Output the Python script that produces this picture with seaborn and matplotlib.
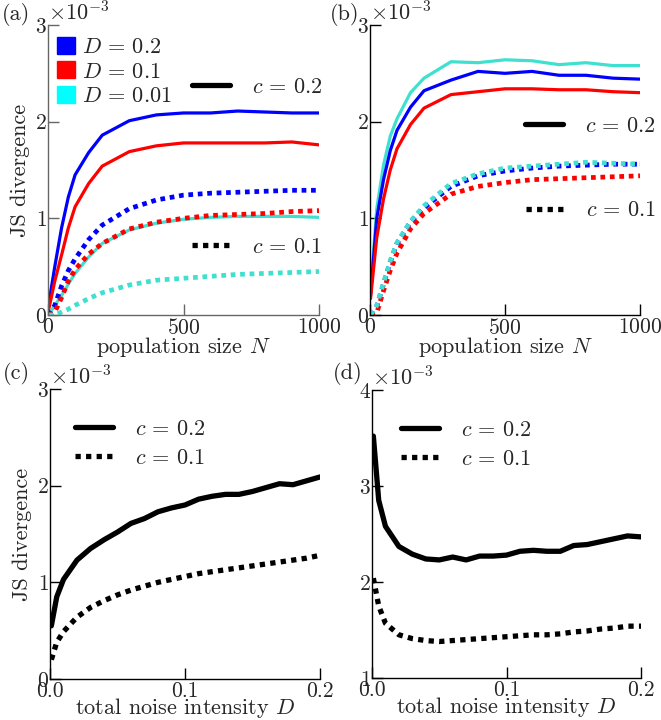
import numpy as np
import pandas as pd
import matplotlib
matplotlib.use("Agg")
import matplotlib.pyplot as plt
import seaborn as sns
from matplotlib.lines import Line2D
from matplotlib.patches import Patch

# ---------------- data (values in units of 1e-3) ----------------
N = [2, 25, 50, 75, 100, 150, 200, 300, 400, 500, 600, 700, 800, 900, 1000]

# panel (a)
a_blue_c02 = [0.10, 0.50, 0.90, 1.22, 1.45, 1.68, 1.86, 2.01, 2.07, 2.09, 2.09, 2.11, 2.10, 2.09, 2.09]
a_red_c02 = [0.05, 0.35, 0.62, 0.90, 1.12, 1.36, 1.54, 1.69, 1.75, 1.78, 1.78, 1.78, 1.78, 1.79, 1.76]
a_cyan_c02 = [0.00, 0.10, 0.20, 0.32, 0.43, 0.60, 0.74, 0.88, 0.95, 0.99, 1.01, 1.02, 1.02, 1.02, 1.01]
a_blue_c01 = [0.00, 0.10, 0.30, 0.46, 0.58, 0.78, 0.93, 1.10, 1.19, 1.24, 1.26, 1.27, 1.28, 1.29, 1.29]
a_red_c01 = [0.00, 0.03, 0.18, 0.35, 0.47, 0.63, 0.74, 0.89, 0.96, 1.00, 1.03, 1.04, 1.05, 1.07, 1.08]
a_cyan_c01 = [0.00, 0.00, 0.03, 0.06, 0.10, 0.17, 0.23, 0.31, 0.36, 0.38, 0.40, 0.42, 0.43, 0.44, 0.45]

# panel (b)
b_blue_c02 = [0.20, 1.00, 1.40, 1.70, 1.91, 2.15, 2.32, 2.43, 2.52, 2.50, 2.52, 2.48, 2.48, 2.45, 2.44]
b_red_c02 = [0.17, 0.80, 1.20, 1.50, 1.72, 1.97, 2.14, 2.28, 2.31, 2.34, 2.34, 2.33, 2.33, 2.31, 2.30]
b_cyan_c02 = [0.25, 1.10, 1.55, 1.85, 2.03, 2.30, 2.45, 2.62, 2.61, 2.64, 2.63, 2.59, 2.61, 2.58, 2.58]
b_blue_c01 = [0.00, 0.09, 0.32, 0.55, 0.74, 0.96, 1.11, 1.33, 1.44, 1.49, 1.52, 1.54, 1.55, 1.56, 1.56]
b_red_c01 = [0.00, 0.02, 0.25, 0.46, 0.64, 0.89, 1.05, 1.25, 1.33, 1.37, 1.40, 1.41, 1.42, 1.43, 1.44]
b_cyan_c01 = [0.00, 0.10, 0.33, 0.56, 0.75, 0.97, 1.13, 1.36, 1.46, 1.52, 1.54, 1.56, 1.58, 1.57, 1.56]

# panels (c), (d): total noise intensity D
Dn = [0.001, 0.005, 0.01, 0.02, 0.03, 0.04, 0.05, 0.06, 0.07, 0.08, 0.09, 0.10,
      0.11, 0.12, 0.13, 0.14, 0.15, 0.16, 0.17, 0.18, 0.19, 0.20]
c_c02 = [0.55, 0.85, 1.03, 1.23, 1.35, 1.44, 1.52, 1.61, 1.66, 1.73, 1.77, 1.80,
         1.86, 1.89, 1.91, 1.91, 1.94, 1.98, 2.02, 2.01, 2.05, 2.09]
c_c01 = [0.20, 0.38, 0.49, 0.64, 0.74, 0.81, 0.87, 0.92, 0.96, 1.00, 1.03, 1.06,
         1.09, 1.11, 1.13, 1.15, 1.17, 1.19, 1.21, 1.23, 1.25, 1.28]
d_c02 = [3.52, 2.85, 2.58, 2.37, 2.29, 2.24, 2.23, 2.26, 2.23, 2.27, 2.27, 2.28,
         2.32, 2.33, 2.32, 2.32, 2.38, 2.39, 2.42, 2.45, 2.48, 2.47]
d_c01 = [2.04, 1.75, 1.57, 1.45, 1.41, 1.39, 1.38, 1.39, 1.40, 1.41, 1.42, 1.43,
         1.44, 1.45, 1.45, 1.46, 1.48, 1.49, 1.51, 1.52, 1.54, 1.54]

D_labels = [r"$D\,=\,0.2$", r"$D\,=\,0.1$", r"$D\,=\,0.01$"]
c_labels = [r"$c\,=\,0.2$", r"$c\,=\,0.1$"]
panel_labels = ["(a)", "(b)", "(c)", "(d)"]

# ---------------- style ----------------
sns.set_theme(style="ticks")
plt.rcParams.update({
    "font.family": ["cmr10", "DejaVu Serif"],
    "mathtext.fontset": "cm",
    "axes.formatter.use_mathtext": True,
    "axes.unicode_minus": False,
    "font.size": 16,
    "axes.labelsize": 16,
    "xtick.labelsize": 15.5,
    "ytick.labelsize": 15.5,
    "legend.fontsize": 16,
})

BLUE, RED = "#0000ff", "#ff0000"
CYAN_LINE, CYAN_PATCH = "#40e0d0", "#00ffff"
DOT = (0, (1, 1))
S = 1e-3

fig = plt.figure(figsize=(6.61, 7.2), dpi=100)
W, H = 661, 720
def add_ax(l, r, t, b):
    return fig.add_axes([l / W, 1 - b / H, (r - l) / W, (b - t) / H])

axA = add_ax(48, 319, 25, 315)
axB = add_ax(370, 640, 25, 315)
axC = add_ax(50, 320, 389, 679)
axD = add_ax(372, 641, 390, 678)

def draw(ax, x, y, color, ls, lw):
    sns.lineplot(x=np.asarray(x), y=np.asarray(y) * S, ax=ax, color=color,
                 linestyle=ls, linewidth=lw, estimator=None, sort=False)

for ax, sets in [
    (axA, [(a_blue_c02, BLUE, "-"), (a_red_c02, RED, "-"), (a_cyan_c02, CYAN_LINE, "-"),
           (a_blue_c01, BLUE, DOT), (a_red_c01, RED, DOT), (a_cyan_c01, CYAN_LINE, DOT)]),
    (axB, [(b_cyan_c02, CYAN_LINE, "-"), (b_blue_c02, BLUE, "-"), (b_red_c02, RED, "-"),
           (b_blue_c01, BLUE, DOT), (b_red_c01, RED, DOT), (b_cyan_c01, CYAN_LINE, DOT)]),
]:
    for y, col, ls in sets:
        draw(ax, N, y, col, ls, 2.3 if ls == "-" else 3.4)

draw(axC, Dn, c_c02, "black", "-", 3.8)
draw(axC, Dn, c_c01, "black", DOT, 3.8)
draw(axD, Dn, d_c02, "black", "-", 3.8)
draw(axD, Dn, d_c01, "black", DOT, 3.8)

for ax, spc in [(axA, "#666666"), (axB, "black"), (axC, "black"), (axD, "black")]:
    sns.despine(ax=ax)
    for s in ["left", "bottom"]:
        ax.spines[s].set_color(spc)
        ax.spines[s].set_linewidth(1.0)
    ax.tick_params(direction="in", length=8, width=1.0, color=spc)
    ax.tick_params(axis="x", pad=2)
    ax.tick_params(axis="y", pad=1)
    ax.ticklabel_format(axis="y", style="sci", scilimits=(-3, -3), useMathText=True)
    ax.yaxis.get_offset_text().set_fontsize(16)
    ax.set_ylabel("")
    ax.set_xlabel("")

for ax in (axA, axB):
    ax.set_xlim(0, 1000)
    ax.set_ylim(0, 3e-3)
    ax.set_xticks([0, 500, 1000])
    ax.set_yticks([0, 1e-3, 2e-3, 3e-3])
    ax.set_xlabel("population size $N$", labelpad=-2)
for ax in (axC, axD):
    ax.set_xlim(0, 0.2)
    ax.set_xticks([0.0, 0.1, 0.2])
    ax.set_xticklabels(["0.0", "0.1", "0.2"])
    ax.set_xlabel("total noise intensity $D$", labelpad=-4)
axC.set_ylim(0, 3e-3)
axC.set_yticks([0, 1e-3, 2e-3, 3e-3])
axD.set_ylim(1e-3, 4e-3)
axD.set_yticks([1e-3, 2e-3, 3e-3, 4e-3])
axA.set_ylabel("JS divergence", labelpad=3)
axC.set_ylabel("JS divergence", labelpad=3)

# legends
h_sol = Line2D([], [], color="black", lw=3.8, ls="-")
h_dot = Line2D([], [], color="black", lw=3.8, ls=DOT)
legD = axA.legend([Patch(color=c) for c in (BLUE, RED, CYAN_PATCH)], D_labels,
                  loc="upper left", bbox_to_anchor=(0.0, 0.99), frameon=False,
                  handlelength=0.8, handleheight=0.8, handletextpad=0.35,
                  labelspacing=0.2, borderaxespad=0.0)
axA.add_artist(legD)
kw = dict(frameon=False, handlelength=1.7, handletextpad=1.0, borderaxespad=0.0)
l1 = axA.legend([h_sol], [c_labels[0]], loc="center right", bbox_to_anchor=(1.045, 0.785), **kw)
axA.add_artist(l1)
axA.legend([h_dot], [c_labels[1]], loc="center right", bbox_to_anchor=(1.045, 0.235), **kw)

l2 = axB.legend([h_sol], [c_labels[0]], loc="center right", bbox_to_anchor=(1.09, 0.65), **kw)
axB.add_artist(l2)
axB.legend([h_dot], [c_labels[1]], loc="center right", bbox_to_anchor=(1.09, 0.36), **kw)

axC.legend([h_sol, h_dot], c_labels, loc="upper left", bbox_to_anchor=(0.06, 0.925),
           frameon=False, handlelength=1.7, handletextpad=1.0, labelspacing=0.42,
           borderaxespad=0.0)
axD.legend([h_sol, h_dot], c_labels, loc="upper left", bbox_to_anchor=(0.075, 0.925),
           frameon=False, handlelength=1.7, handletextpad=1.0, labelspacing=0.42,
           borderaxespad=0.0)

for lab, (x, y) in zip(panel_labels, [(2, 3), (330, 3), (3, 362), (333, 362)]):
    fig.text(x / W, 1 - y / H, lab, ha="left", va="top", fontsize=16)

fig.savefig("out.png", dpi=100)
